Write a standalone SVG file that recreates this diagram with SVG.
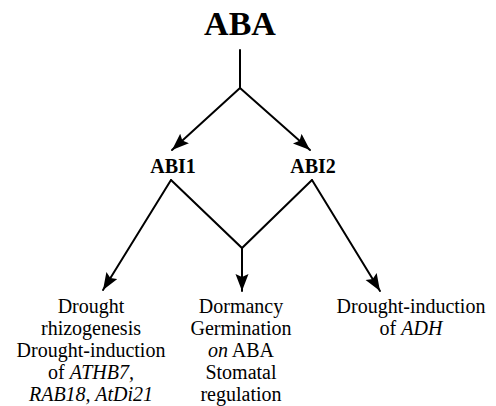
<svg xmlns="http://www.w3.org/2000/svg" width="496" height="406" viewBox="0 0 496 406">
<style>
text{font-family:"Liberation Serif","DejaVu Serif","Times New Roman",serif;fill:#000;text-anchor:middle}
.b{font-weight:bold}
.l{font-size:20px}
.c{stroke:#000;stroke-width:2;fill:none;stroke-linecap:round;stroke-linejoin:miter}
</style>
<defs>
<marker id="ah" markerUnits="userSpaceOnUse" markerWidth="20" markerHeight="14" refX="17" refY="6.5" orient="auto">
<path d="M0,0 L17,6.5 L0,13 L3,6.5 z" fill="#000"/>
</marker>
</defs>
<rect width="496" height="406" fill="#fff"/>
<g id="connectors">
<path class="c" d="M240,50 L240,88"/>
<path class="c" d="M240,88 L172,150" marker-end="url(#ah)"/>
<path class="c" d="M240,88 L310,150" marker-end="url(#ah)"/>
<path class="c" d="M171,180 L103,290" marker-end="url(#ah)"/>
<path class="c" d="M171,180 L242,248 L312,180"/>
<path class="c" d="M242,248 L242,291" marker-end="url(#ah)"/>
<path class="c" d="M312,180 L380,291" marker-end="url(#ah)"/>
</g>
<g id="aba"><text class="b" x="240" y="35" font-size="34" font-family="Liberation Serif, serif">ABA</text></g>
<g id="abi1"><text class="b" x="173" y="173" font-size="20" font-family="Liberation Serif, serif">ABI1</text></g>
<g id="abi2"><text class="b" x="313" y="173" font-size="20" font-family="Liberation Serif, serif">ABI2</text></g>
<g id="out1" font-family="Liberation Serif, serif">
<text class="l" x="91" y="313">Drought</text>
<text class="l" x="91" y="335">rhizogenesis</text>
<text class="l" x="91" y="357">Drought-induction</text>
<text class="l" x="91" y="379">of <tspan font-style="italic">ATHB7,</tspan></text>
<text class="l" x="91" y="401" font-style="italic">RAB18, AtDi21</text>
</g>
<g id="out2">
<text class="l" x="241" y="313">Dormancy</text>
<text class="l" x="241" y="335">Germination</text>
<text class="l" x="241" y="357"><tspan font-style="italic">on</tspan> ABA</text>
<text class="l" x="241" y="379">Stomatal</text>
<text class="l" x="241" y="401">regulation</text>
</g>
<g id="out3">
<text class="l" x="411" y="313">Drought-induction</text>
<text class="l" x="411" y="335">of <tspan font-style="italic">ADH</tspan></text>
</g>
</svg>
